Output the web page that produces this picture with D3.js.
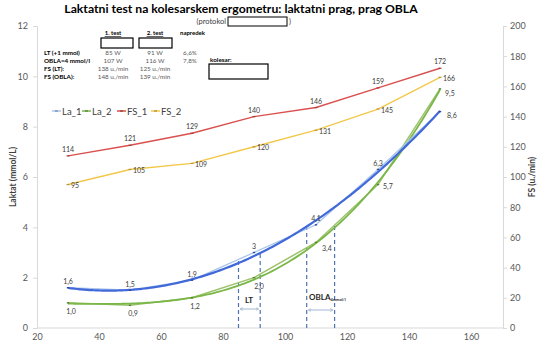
<!DOCTYPE html>
<html><head><meta charset="utf-8">
<script src="https://cdn.jsdelivr.net/npm/d3@7/dist/d3.min.js"></script>
<style>body{margin:0;background:#fff}svg{display:block}text{font-family:Lato,"Open Sans",sans-serif}</style>
</head><body><svg id="c" width="540" height="347"></svg>
<script>
// ---- data ----
const power = [30, 50, 70, 90, 110, 130, 150];
const la1 = [1.6, 1.5, 1.9, 3.0, 4.1, 6.3, 8.6];
const la2 = [1.0, 0.9, 1.2, 2.0, 3.4, 5.7, 9.5];
const fs1 = [114, 121, 129, 140, 146, 159, 172];
const fs2 = [95, 105, 109, 120, 131, 145, 166];
const xTicks = [20, 40, 60, 80, 100, 120, 140, 160];
const yLTicks = [0, 2, 4, 6, 8, 10, 12];
const yRTicks = [0, 20, 40, 60, 80, 100, 120, 140, 160, 180, 200];
const thresholdW = [85, 92, 107, 116];
const thresholdLa = [2.7, 3.0, 4.0, 4.1];
const tableRows = ["LT (+1 mmol)", "OBLA=4 mmol/l", "FS (LT):", "FS (OBLA):"];
const test1 = ["85 W", "107 W", "138 u./min", "148 u./min"];
const test2 = ["91 W", "116 W", "125 u./min", "139 u./min"];
const progress = ["6,6%", "7,8%", "", ""];
const legendNames = ["La_1", "La_2", "FS_1", "FS_2"];

const svg = d3.select("#c");
const x = d3.scaleLinear([20, 170], [37, 502]);
const yL = d3.scaleLinear([0, 12], [328, 26]);
const yR = d3.scaleLinear([0, 200], [328, 26]);
const fmt = v => String(v).replace(".", ",");
const fmt1 = v => v.toFixed(1).replace(".", ",");

// polynomial (order 3) least squares trendline
function polyfit(xs, ys, n) {
  const m = n + 1, A = [], b = [];
  for (let i = 0; i < m; i++) { A.push(new Array(m).fill(0)); b.push(0); }
  xs.forEach((xv, k) => {
    for (let i = 0; i < m; i++) {
      b[i] += ys[k] * Math.pow(xv, i);
      for (let j = 0; j < m; j++) A[i][j] += Math.pow(xv, i + j);
    }
  });
  for (let i = 0; i < m; i++) {
    let p = i;
    for (let r = i + 1; r < m; r++) if (Math.abs(A[r][i]) > Math.abs(A[p][i])) p = r;
    [A[i], A[p]] = [A[p], A[i]]; [b[i], b[p]] = [b[p], b[i]];
    for (let r = i + 1; r < m; r++) {
      const f = A[r][i] / A[i][i];
      for (let c = i; c < m; c++) A[r][c] -= f * A[i][c];
      b[r] -= f * b[i];
    }
  }
  const c = new Array(m).fill(0);
  for (let i = m - 1; i >= 0; i--) {
    let s = b[i];
    for (let j = i + 1; j < m; j++) s -= A[i][j] * c[j];
    c[i] = s / A[i][i];
  }
  return xv => c.reduce((s, ci, i) => s + ci * Math.pow(xv, i), 0);
}
const trend1 = polyfit(power.map(p => (p - 90) / 20), la1, 3);
const trend2 = polyfit(power.map(p => (p - 90) / 20), la2, 3);
const samples = d3.range(30, 150.01, 1);

// ---- axes ----
const gx = svg.append("g").attr("transform", "translate(0,328)")
  .call(d3.axisBottom(x).tickValues(xTicks).tickSize(0).tickPadding(6));
const gl = svg.append("g").attr("transform", "translate(37,0)")
  .call(d3.axisLeft(yL).tickValues(yLTicks).tickSize(4).tickPadding(5));
const gr = svg.append("g").attr("transform", "translate(503,0)")
  .call(d3.axisRight(yR).tickValues(yRTicks).tickSize(4).tickPadding(3));
[gx, gl, gr].forEach(g => {
  g.select(".domain").attr("stroke", "#d9d9d9");
  g.selectAll(".tick line").attr("stroke", "#d9d9d9");
  g.selectAll("text").attr("fill", "#595959").style("font-size", "9px");
});
gx.select(".domain").attr("d", "M37,0H503");

svg.append("text").attr("transform", "translate(16,177) rotate(-90)")
  .attr("text-anchor", "middle").style("font-size", "8.5px").style("font-weight", "bold")
  .attr("fill", "#404040").text("Laktat (mmol/L)");
svg.append("text").attr("transform", "translate(535,177) rotate(-90)")
  .attr("text-anchor", "middle").style("font-size", "8.5px").style("font-weight", "bold")
  .attr("fill", "#404040").text("FS (u./min)");

// ---- title & header ----
svg.append("text").attr("x", 241).attr("y", 13).attr("text-anchor", "middle")
  .style("font-size", "12.2px").style("font-weight", "bold").attr("fill", "#000")
  .text("Laktatni test na kolesarskem ergometru: laktatni prag, prag OBLA");
svg.append("text").attr("x", 226).attr("y", 24).attr("text-anchor", "end")
  .style("font-size", "7.5px").attr("fill", "#404040").text("(protokol");
svg.append("rect").attr("x", 228).attr("y", 17).attr("width", 59).attr("height", 9)
  .attr("fill", "#fff").attr("stroke", "#000").attr("stroke-width", 1);
svg.append("text").attr("x", 289).attr("y", 24).style("font-size", "7.5px").attr("fill", "#404040").text(")");

// table
const colX = [113, 155, 190];
svg.append("text").attr("x", colX[0]).attr("y", 35).attr("text-anchor", "middle")
  .style("font-size", "6px").style("font-weight", "bold").style("text-decoration", "underline").text("1. test");
svg.append("text").attr("x", colX[1]).attr("y", 35).attr("text-anchor", "middle")
  .style("font-size", "6px").style("font-weight", "bold").style("text-decoration", "underline").text("2. test");
svg.append("text").attr("x", 180).attr("y", 35)
  .style("font-size", "6px").style("font-weight", "bold").text("napredek");
svg.append("rect").attr("x", 101).attr("y", 38).attr("width", 32).attr("height", 10)
  .attr("fill", "none").attr("stroke", "#000").attr("stroke-width", 1.2);
svg.append("rect").attr("x", 139).attr("y", 38).attr("width", 33).attr("height", 10)
  .attr("fill", "none").attr("stroke", "#000").attr("stroke-width", 1.2);
const rowY = [54.5, 62.5, 71, 79];
tableRows.forEach((r, i) => {
  svg.append("text").attr("x", 44).attr("y", rowY[i]).style("font-size", "6.3px")
    .style("font-weight", "bold").attr("fill", "#000").text(r);
  svg.append("text").attr("x", colX[0]).attr("y", rowY[i]).attr("text-anchor", "middle")
    .style("font-size", "6.3px").attr("fill", "#595959").text(test1[i]);
  svg.append("text").attr("x", colX[1]).attr("y", rowY[i]).attr("text-anchor", "middle")
    .style("font-size", "6.3px").attr("fill", "#595959").text(test2[i]);
  if (progress[i]) svg.append("text").attr("x", colX[2]).attr("y", rowY[i]).attr("text-anchor", "middle")
    .style("font-size", "6.3px").attr("fill", "#595959").text(progress[i]);
});
svg.append("text").attr("x", 210).attr("y", 62).style("font-size", "6.3px")
  .style("font-weight", "bold").text("kolesar:");
svg.append("rect").attr("x", 209).attr("y", 64).attr("width", 59).attr("height", 15)
  .attr("fill", "none").attr("stroke", "#000").attr("stroke-width", 1.2);

// ---- colors ----
const C = {
  la1: "#a9c4eb", la1t: "#4169d9", la2: "#9bc26a", la2t: "#7ab648",
  fs1: "#d9504f", fs2: "#f2c84b", dash: "#4f73b0"
};

// ---- FS lines (right axis) ----
function drawLine(vals, yS, color, width) {
  svg.append("path").datum(vals)
    .attr("d", d3.line().x((d, i) => x(power[i])).y(d => yS(d)))
    .attr("fill", "none").attr("stroke", color).attr("stroke-width", width);
  svg.append("g").selectAll("path").data(vals).join("path")
    .attr("d", (d, i) => `M${x(power[i]) - 1.5},${yS(d)}h3`)
    .attr("stroke", d3.color(color).darker(0.8)).attr("stroke-width", 1.2);
}
drawLine(fs1, yR, C.fs1, 1.4);
drawLine(fs2, yR, C.fs2, 1.4);

// ---- threshold dashed lines ----
thresholdW.forEach((w, i) => {
  svg.append("line").attr("x1", x(w)).attr("x2", x(w)).attr("y1", 328).attr("y2", yL(thresholdLa[i]))
    .attr("stroke", C.dash).attr("stroke-width", 1.2).attr("stroke-dasharray", "4,3");
});
// arrows
const defs = svg.append("defs");
defs.append("marker").attr("id", "ah").attr("viewBox", "0 0 6 6").attr("refX", 5).attr("refY", 3)
  .attr("markerWidth", 4).attr("markerHeight", 4).attr("orient", "auto-start-reverse")
  .append("path").attr("d", "M0,0L6,3L0,6").attr("fill", "none").attr("stroke", "#8aa4c8").attr("stroke-width", 1);
[[0, 1, 309], [2, 3, 310]].forEach(([a, b, yy]) => {
  svg.append("line").attr("x1", x(thresholdW[a]) + 2).attr("x2", x(thresholdW[b]) - 2)
    .attr("y1", yy).attr("y2", yy).attr("stroke", "#8aa4c8").attr("stroke-width", 0.8)
    .attr("marker-start", "url(#ah)").attr("marker-end", "url(#ah)");
});
svg.append("text").attr("x", 249).attr("y", 303).attr("text-anchor", "middle")
  .style("font-size", "8px").style("font-weight", "bold").attr("fill", "#262626").text("LT");
const ob = svg.append("text").attr("x", 309).attr("y", 300).style("font-size", "8px")
  .style("font-weight", "bold").attr("fill", "#262626");
ob.append("tspan").text("OBLA");
ob.append("tspan").attr("dy", 1).style("font-size", "4px").text("4mmol/l");

// ---- lactate lines ----
function drawLa(vals, color, tcol, trend, w1, w2) {
  svg.append("path").datum(vals)
    .attr("d", d3.line().x((d, i) => x(power[i])).y(d => yL(d)))
    .attr("fill", "none").attr("stroke", color).attr("stroke-width", w1);
  svg.append("path").datum(samples)
    .attr("d", d3.line().curve(d3.curveBasis).x(p => x(p)).y(p => yL(trend((p - 90) / 20))))
    .attr("fill", "none").attr("stroke", tcol).attr("stroke-width", w2);
  svg.append("g").selectAll("path").data(vals).join("path")
    .attr("d", (d, i) => `M${x(power[i]) - 1.2},${yL(d)}h2.4`)
    .attr("stroke", d3.color(tcol).darker(1)).attr("stroke-width", 1.4);
}
drawLa(la2, C.la2, C.la2t, trend2, 1.5, 1.8);
drawLa(la1, C.la1, C.la1t, trend1, 1.3, 2.2);

// ---- data labels ----
function labels(vals, yS, pos, f) {
  svg.append("g").selectAll("text").data(vals).join("text")
    .each(function (d, i) {
      const [dx, dy, anchor] = pos(i);
      d3.select(this).attr("x", x(power[i]) + dx).attr("y", yS(d) + dy).attr("text-anchor", anchor);
    })
    .style("font-size", "7px").attr("fill", "#404040").text(d => f(d));
}
labels(fs1, yR, i => [0, -4, "middle"], fmt);
labels(fs2, yR, i => [3, 3.5, "start"], fmt);
labels(la1, yL, i => i === 6 ? [7, 6, "start"] : [0, -3.5, "middle"], fmt);
labels(la2, yL, i => i >= 4 ? [(i === 4 ? 6 : 5), (i === 4 ? 9 : (i === 6 ? 7 : 4)), "start"]
  : (i === 3 ? [5, 11, "middle"] : [3, 11, "middle"]), fmt1);

// ---- legend ----
const legCol = [C.la1, C.la2t, C.fs1, C.fs2];
const legX = [52, 82, 117, 151];
legendNames.forEach((n, i) => {
  const g = svg.append("g").attr("transform", `translate(${legX[i]},111)`);
  g.append("line").attr("x1", 0).attr("x2", 9).attr("y1", 0).attr("y2", 0)
    .attr("stroke", legCol[i]).attr("stroke-width", 1.5);
  g.append("path").attr("d", "M3,0h3").attr("stroke", d3.color(legCol[i]).darker(1)).attr("stroke-width", 1.2);
  g.append("text").attr("x", 10).attr("y", 3.5).style("font-size", "9.5px").attr("fill", "#404040").text(n);
});
</script></body></html>
